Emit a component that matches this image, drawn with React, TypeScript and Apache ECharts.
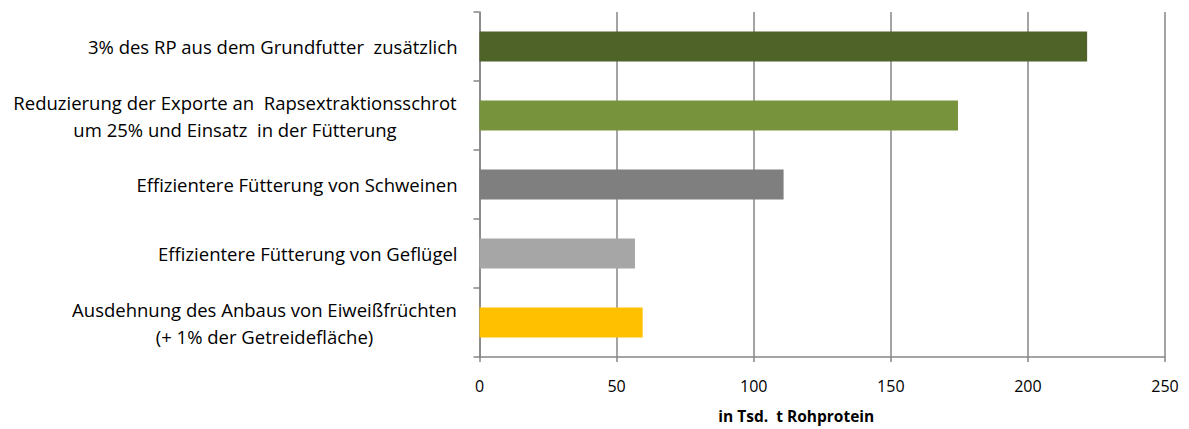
import React, { useEffect, useRef } from "react";
import * as echarts from "echarts";

const categories = [
  "3% des RP aus dem Grundfutter  zusätzlich",
  "Reduzierung der Exporte an  Rapsextraktionsschrot\num 25% und Einsatz  in der Fütterung",
  "Effizientere Fütterung von Schweinen",
  "Effizientere Fütterung von Geflügel",
  "Ausdehnung des Anbaus von Eiweißfrüchten\n(+ 1% der Getreidefläche)",
];
const values = [221.6, 174.5, 110.9, 56.7, 59.5];
const barColors = ["#4f6228", "#77933c", "#7f7f7f", "#a6a6a6", "#ffc000"];
const xTicks = [0, 50, 100, 150, 200, 250];
const axisTitle = "in Tsd.  t Rohprotein";

export default function App() {
  const ref = useRef<HTMLDivElement>(null);
  useEffect(() => {
    document.body.style.margin = "0";
    if (!ref.current) return;
    const chart = echarts.init(ref.current, undefined, { renderer: "svg" });
    const font = "Open Sans";
    const labelSize = 18.5;
    const ctx = document.createElement("canvas").getContext("2d");
    const measure = (s: string) => {
      if (!ctx) return s.length * labelSize * 0.5;
      ctx.font = `${labelSize}px "${font}"`;
      return ctx.measureText(s).width;
    };
    const rich: Record<string, any> = {};
    categories.forEach((c, i) => {
      if (c.includes("\n")) {
        const w = Math.max(...c.split("\n").map(measure));
        rich["w" + i] = {
          width: Math.ceil(w) + 1,
          align: "center",
          fontFamily: font,
          fontSize: labelSize,
          lineHeight: 27,
          color: "#000",
        };
      }
    });
    chart.setOption({
      animation: false,
      grid: { left: 479.5, right: 24, top: 12, bottom: 72 },
      xAxis: {
        type: "value",
        min: xTicks[0],
        max: xTicks[xTicks.length - 1],
        interval: 50,
        name: axisTitle,
        nameLocation: "middle",
        nameGap: 51,
        nameTextStyle: {
          fontFamily: font,
          fontWeight: "bold",
          fontSize: 15.5,
          color: "#000",
          padding: [0, 52, 0, 0],
        },
        axisLine: { show: true, lineStyle: { color: "#868686", width: 1.5 } },
        axisTick: { show: true, length: 5, lineStyle: { color: "#868686", width: 1.5 } },
        axisLabel: { fontFamily: font, fontSize: 16, color: "#000", margin: 21 },
        splitLine: { show: true, lineStyle: { color: "#868686", width: 1.5 } },
      },
      yAxis: {
        type: "category",
        inverse: true,
        data: categories,
        axisLine: { show: true, lineStyle: { color: "#868686", width: 1.5 } },
        axisTick: { show: true, length: 6, lineStyle: { color: "#868686", width: 1.5 } },
        axisLabel: {
          fontFamily: font,
          fontSize: labelSize,
          color: "#000",
          margin: 22,
          lineHeight: 27,
          align: "right",
          formatter: (val: string, idx: number) => {
            if (!val.includes("\n")) return val;
            return val
              .split("\n")
              .map((l) => `{w${idx}|${l}}`)
              .join("\n");
          },
          rich,
        },
        splitLine: { show: false },
      },
      series: [
        {
          type: "bar",
          data: values.map((v, i) => ({ value: v, itemStyle: { color: barColors[i] } })),
          barWidth: 30,
        },
      ],
    });
    return () => chart.dispose();
  }, []);
  return <div ref={ref} style={{ width: 1189, height: 429 }} />;
}
